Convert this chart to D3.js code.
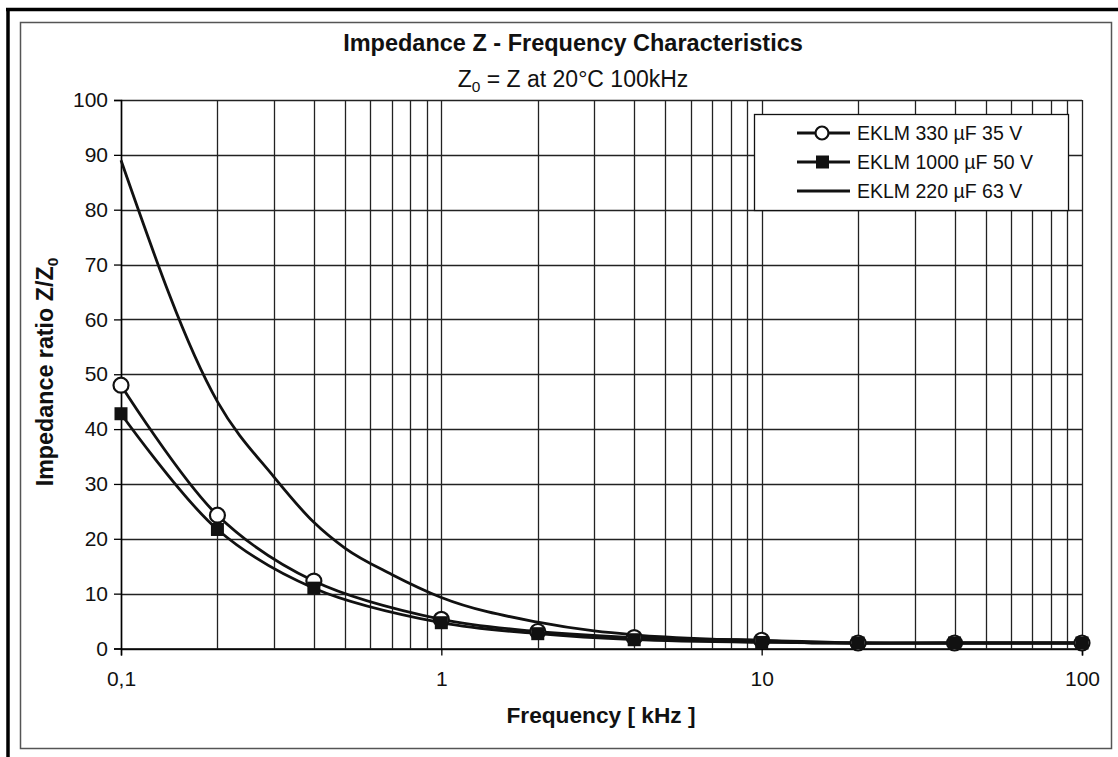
<!DOCTYPE html>
<html><head><meta charset="utf-8">
<script src="https://cdn.jsdelivr.net/npm/d3@7"></script>
<style>
html,body{margin:0;padding:0;background:#fff;}
svg{display:block;font-family:"Liberation Sans",Arial,sans-serif;}
</style></head>
<body><svg id="c" width="1118" height="757"></svg>
<script>
// ---- data ----
const freqs12 = [0.1, 0.2, 0.4, 1, 2, 4, 10, 20, 40, 100];
const eklm330 = [48, 24.3, 12.3, 5.3, 3.1, 2.0, 1.5, 1, 1, 1];
const eklm1000 = [42.8, 21.7, 11.0, 4.7, 2.7, 1.6, 1.1, 1, 1, 1];
const freqs3 = [0.1, 0.2, 0.3, 0.4, 0.5, 0.7, 1, 2, 3, 4, 5, 7, 10, 15, 20, 40, 100];
const eklm220 = [89, 45, 31.3, 23, 18.3, 13.5, 9.3, 4.8, 3.2, 2.5, 2.1, 1.7, 1.5, 1.0, 1, 1, 1];
const seriesNames = ["EKLM 330 µF 35 V", "EKLM 1000 µF 50 V", "EKLM 220 µF 63 V"];
const xTickValues = [0.1, 1, 10, 100];
const xTickLabels = ["0,1", "1", "10", "100"];
const yTickValues = [0, 10, 20, 30, 40, 50, 60, 70, 80, 90, 100];

const svg = d3.select("#c");
const W = 1118, H = 757;

// frames
svg.append("rect").attr("x",20.5).attr("y",22.5).attr("width",1091).attr("height",726)
  .attr("fill","none").attr("stroke","#555").attr("stroke-width",1.5);
svg.append("line").attr("x1",6).attr("x2",W).attr("y1",9.5).attr("y2",9.5).attr("stroke","#000").attr("stroke-width",3.5);
svg.append("line").attr("x1",8).attr("x2",8).attr("y1",8).attr("y2",H).attr("stroke","#000").attr("stroke-width",3.5);

const x = d3.scaleLog().domain([0.1, 100]).range([121, 1082]);
const y = d3.scaleLinear().domain([0, 100]).range([648.5, 100]);

// grid
const minor = [];
[0.1, 1, 10].forEach(d => { for (let k = 1; k <= 9; k++) minor.push(d * k); });
minor.push(100);
const g = svg.append("g");
g.selectAll("line.v").data(minor).join("line")
  .attr("x1", d => Math.round(x(d)) + 0.5).attr("x2", d => Math.round(x(d)) + 0.5)
  .attr("y1", y(100)).attr("y2", y(0)).attr("stroke", "#222").attr("stroke-width", 1.3);
g.selectAll("line.h").data(yTickValues).join("line")
  .attr("x1", x(0.1)).attr("x2", x(100))
  .attr("y1", d => Math.round(y(d)) + 0.5).attr("y2", d => Math.round(y(d)) + 0.5)
  .attr("stroke", "#222").attr("stroke-width", 1.3);

// axes
const yAxis = d3.axisLeft(y).tickValues(yTickValues).tickSize(7).tickPadding(6);
const ya = svg.append("g").attr("transform", `translate(${x(0.1)},0)`).call(yAxis);
ya.select(".domain").attr("stroke", "#000").attr("stroke-width", 1.5);
ya.selectAll(".tick line").attr("stroke", "#000").attr("stroke-width", 1.3);
ya.selectAll(".tick text").attr("font-size", 21).attr("fill", "#111").attr("font-family", "Liberation Sans, Arial, sans-serif");

const xAxis = d3.axisBottom(x).tickValues(xTickValues).tickFormat((d, i) => xTickLabels[i]).tickSize(7).tickPadding(16);
const xa = svg.append("g").attr("transform", `translate(0,${y(0)})`).call(xAxis);
xa.select(".domain").attr("stroke", "#000").attr("stroke-width", 1.5);
xa.selectAll(".tick line").attr("stroke", "#000").attr("stroke-width", 1.3);
xa.selectAll(".tick text").attr("font-size", 21).attr("fill", "#111").attr("font-family", "Liberation Sans, Arial, sans-serif");

// lines
const d330 = freqs12.map((f, i) => [f, eklm330[i]]);
const d1000 = freqs12.map((f, i) => [f, eklm1000[i]]);
const d220 = freqs3.map((f, i) => [f, eklm220[i]]);
const lineSmooth = d3.line().x(d => x(d[0])).y(d => y(d[1])).curve(d3.curveCatmullRom.alpha(0.5));
const lineLin = d3.line().x(d => x(d[0])).y(d => y(d[1])).curve(d3.curveMonotoneX);
const lw = 2.8;
svg.append("path").attr("d", lineLin(d220)).attr("fill", "none").attr("stroke", "#111").attr("stroke-width", lw);
svg.append("path").attr("d", lineSmooth(d1000)).attr("fill", "none").attr("stroke", "#111").attr("stroke-width", lw);
svg.append("path").attr("d", lineSmooth(d330)).attr("fill", "none").attr("stroke", "#111").attr("stroke-width", lw);

// markers: circles then squares on top
svg.selectAll("circle.m").data(d330).join("circle")
  .attr("cx", d => x(d[0])).attr("cy", d => y(d[1])).attr("r", 7.5)
  .attr("fill", "#fff").attr("stroke", "#111").attr("stroke-width", 2.2);
svg.selectAll("rect.m").data(d1000).join("rect")
  .attr("x", d => x(d[0]) - 6.5).attr("y", d => y(d[1]) - 6.5).attr("width", 13).attr("height", 13)
  .attr("fill", "#111");

// legend
const lg = svg.append("g");
lg.append("rect").attr("x", 754.5).attr("y", 114.5).attr("width", 314).attr("height", 96)
  .attr("fill", "#fff").attr("stroke", "#111").attr("stroke-width", 1.3);
const ly = [133, 162, 191];
seriesNames.forEach((name, i) => {
  lg.append("line").attr("x1", 797).attr("x2", 850).attr("y1", ly[i]).attr("y2", ly[i])
    .attr("stroke", "#111").attr("stroke-width", lw);
  if (i === 0) lg.append("circle").attr("cx", 822).attr("cy", ly[i]).attr("r", 6.5)
    .attr("fill", "#fff").attr("stroke", "#111").attr("stroke-width", 2.2);
  if (i === 1) lg.append("rect").attr("x", 816).attr("y", ly[i] - 6.5).attr("width", 13).attr("height", 13).attr("fill", "#111");
  lg.append("text").attr("x", 857).attr("y", ly[i] + 7).attr("font-size", 19.5).attr("fill", "#111").text(name);
});

// titles
svg.append("text").attr("x", 573).attr("y", 51).attr("text-anchor", "middle")
  .attr("font-size", 23.5).attr("font-weight", "bold").attr("fill", "#111")
  .text("Impedance Z - Frequency Characteristics");
const st = svg.append("text").attr("x", 573).attr("y", 87).attr("text-anchor", "middle")
  .attr("font-size", 23).attr("fill", "#111");
st.append("tspan").text("Z");
st.append("tspan").attr("font-size", 15.5).attr("dy", 5).text("0");
st.append("tspan").attr("dy", -5).text(" = Z at 20°C 100kHz");

svg.append("text").attr("x", 601).attr("y", 723).attr("text-anchor", "middle")
  .attr("font-size", 22.7).attr("font-weight", "bold").attr("fill", "#111").text("Frequency [ kHz ]");
const yl = svg.append("text").attr("transform", "translate(53,372) rotate(-90)").attr("text-anchor", "middle")
  .attr("font-size", 23.3).attr("font-weight", "bold").attr("fill", "#111");
yl.append("tspan").text("Impedance ratio Z/Z");
yl.append("tspan").attr("font-size", 15.5).attr("dy", 5).text("0");
</script></body></html>
